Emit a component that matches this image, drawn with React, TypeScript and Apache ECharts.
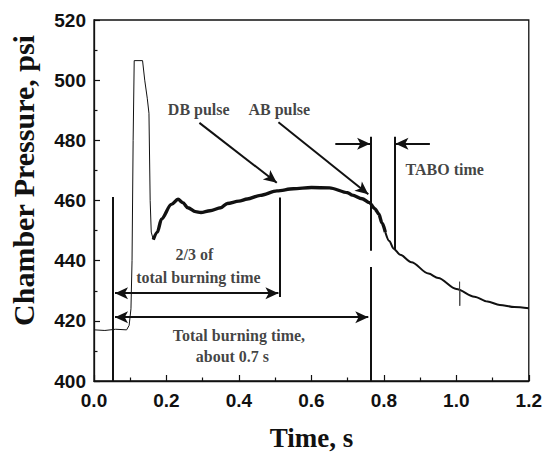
import React, { useEffect, useRef } from "react";
import * as echarts from "echarts";

// Baseline + ignition pulse (thin trace)
const PULSE_T = [0, 0.03, 0.06, 0.09, 0.097, 0.102, 0.105, 0.108, 0.111, 0.134, 0.14, 0.147, 0.1517, 0.155, 0.158, 0.1636];
const PULSE_P = [417, 416.8, 417.2, 417, 418.5, 424, 440, 480, 506.5, 506.5, 500, 494, 489, 460, 449.5, 447];

// Main burning phase (noisy, thick trace)
const MAIN_T = [0.1636, 0.175, 0.186, 0.2135, 0.232, 0.245, 0.259, 0.28, 0.295, 0.32, 0.35, 0.368, 0.4, 0.423, 0.459, 0.505, 0.55, 0.6, 0.65, 0.7, 0.713, 0.74, 0.76, 0.775, 0.786, 0.795, 0.804];
const MAIN_P = [447, 449.5, 453.8, 458.7, 460.4, 459.3, 457.6, 456.3, 456, 456.6, 457.6, 459, 459.8, 460.5, 461.7, 463.2, 463.9, 464.3, 464.2, 462.6, 461.8, 460.6, 459.3, 457.3, 455.5, 452.5, 449.5];

// Tail-off
const TAIL_T = [0.804, 0.815, 0.827, 0.845, 0.876, 0.923, 0.95, 1.0, 1.05, 1.086, 1.12, 1.16, 1.2];
const TAIL_P = [449.5, 446.5, 444, 442, 439.5, 435.7, 434.2, 430.6, 428, 426.4, 425.3, 424.6, 424.2];

// Small noise spike near 1.01 s
const SPIKE_T = [1.0085, 1.009, 1.0095, 1.01];
const SPIKE_P = [430.2, 433, 425, 429.8];

// Vertical marker lines [t1, p1, t2, p2]
const V_LINES = [
  [0.052, 461.2, 0.052, 400],
  [0.764, 481.2, 0.764, 443.3],
  [0.764, 437.9, 0.764, 400],
  [0.83, 481.2, 0.83, 443.8],
  [0.512, 461, 0.512, 427.9],
];

// Arrows [t1, p1, t2, p2, headAtStart, headAtEnd]
const ARROWS: [number, number, number, number, boolean, boolean][] = [
  [0.291, 485.8, 0.5045, 465.9, false, true],
  [0.509, 486.0, 0.757, 462.05, false, true],
  [0.666, 478.9, 0.762, 478.9, false, true],
  [0.927, 478.9, 0.832, 478.9, false, true],
  [0.058, 429.2, 0.509, 429.2, true, true],
  [0.058, 421.2, 0.757, 421.2, true, true],
];

// Annotation texts [t, p, text]
const LABELS: [number, number, string][] = [
  [0.289, 490.2, "DB pulse"],
  [0.5114, 490.2, "AB pulse"],
  [0.968, 470.3, "TABO time"],
  [0.277, 442.2, "2/3 of"],
  [0.288, 434.5, "total burning time"],
  [0.4, 415.1, "Total burning time,"],
  [0.382, 408, "about 0.7 s"],
];

const X_MIN = 0, X_MAX = 1.2, X_STEP = 0.2;
const Y_MIN = 400, Y_MAX = 520, Y_STEP = 20;

const zip = (a: number[], b: number[]) => a.map((v, i) => [v, b[i]]);

export default function App() {
  const ref = useRef<HTMLDivElement>(null);
  useEffect(() => {
    const chart = echarts.init(ref.current!, null, { renderer: "svg" });
    const ink = "#111";
    const sansLabel = { fontFamily: "Liberation Sans", fontWeight: "bold" as const, fontSize: 19, color: ink };
    const markData: any[] = [];
    V_LINES.forEach(([a, b, c, d]) => {
      markData.push([
        { coord: [a, b], symbol: "none" },
        { coord: [c, d], symbol: "none" },
      ]);
    });
    ARROWS.forEach(([a, b, c, d, s, e]) => {
      markData.push([
        { coord: [a, b], symbol: s ? "arrow" : "none" },
        { coord: [c, d], symbol: e ? "arrow" : "none" },
      ]);
    });
    const option: any = {
      animation: false,
      backgroundColor: "#fff",
      grid: { left: 92, right: 14, top: 20, bottom: 74, show: true, borderColor: ink, borderWidth: 1.3, backgroundColor: "transparent" },
      xAxis: {
        type: "value",
        min: X_MIN,
        max: X_MAX,
        interval: X_STEP,
        name: "Time, s",
        nameLocation: "middle",
        nameGap: 43,
        nameTextStyle: { fontFamily: "Liberation Serif", fontWeight: "bold", fontSize: 27, color: ink },
        axisLine: { lineStyle: { color: ink, width: 1.3 } },
        axisTick: { inside: true, length: 6, lineStyle: { color: ink, width: 1.2 } },
        minorTick: { show: true, splitNumber: 2, length: 3.5, lineStyle: { color: ink, width: 1.2 } },
        splitLine: { show: false },
        axisLabel: { ...sansLabel, margin: 10, formatter: (v: number) => v.toFixed(1) },
      },
      yAxis: {
        type: "value",
        min: Y_MIN,
        max: Y_MAX,
        interval: Y_STEP,
        name: "Chamber Pressure, psi",
        nameLocation: "middle",
        nameGap: 56,
        nameTextStyle: { fontFamily: "Liberation Serif", fontWeight: "bold", fontSize: 30, color: ink, padding: [0, 0, 0, 40] },
        axisLine: { show: true, lineStyle: { color: ink, width: 1.3 } },
        axisTick: { show: true, inside: true, length: 6, lineStyle: { color: ink, width: 1.2 } },
        minorTick: { show: true, splitNumber: 2, length: 3.5, lineStyle: { color: ink, width: 1.2 } },
        splitLine: { show: false },
        axisLabel: { ...sansLabel, margin: 8 },
      },
      series: [
        {
          type: "line",
          data: zip(PULSE_T, PULSE_P),
          showSymbol: false,
          lineStyle: { color: ink, width: 1 },
          z: 3,
        },
        {
          type: "line",
          data: zip(MAIN_T, MAIN_P),
          showSymbol: false,
          smooth: 0.3,
          smoothMonotone: "x",
          lineStyle: { color: ink, width: 3.4 },
          z: 3,
        },
        {
          type: "line",
          data: zip(TAIL_T, TAIL_P),
          showSymbol: false,
          smooth: 0.3,
          smoothMonotone: "x",
          lineStyle: { color: ink, width: 2 },
          z: 3,
        },
        {
          type: "line",
          data: zip(SPIKE_T, SPIKE_P),
          showSymbol: false,
          lineStyle: { color: "#444", width: 1 },
          z: 3,
        },
        {
          type: "line",
          data: [],
          markLine: {
            silent: true,
            animation: false,
            symbolSize: [9, 13],
            label: { show: false },
            lineStyle: { color: ink, width: 2, type: "solid" },
            emphasis: { disabled: true },
            data: markData,
          },
          z: 4,
        },
        {
          type: "scatter",
          symbolSize: 0,
          silent: true,
          data: LABELS.map(([t, p, s]) => ({ value: [t, p], name: s })),
          label: {
            show: true,
            position: "inside",
            formatter: (pr: any) => pr.name,
            fontFamily: "Liberation Serif",
            fontWeight: "bold",
            fontSize: 16,
            color: ink,
          },
          z: 5,
        },
      ],
    };
    chart.setOption(option);
    return () => chart.dispose();
  }, []);
  return <div ref={ref} style={{ position: "fixed", left: 0, top: 0, width: 545, height: 456 }} />;
}
